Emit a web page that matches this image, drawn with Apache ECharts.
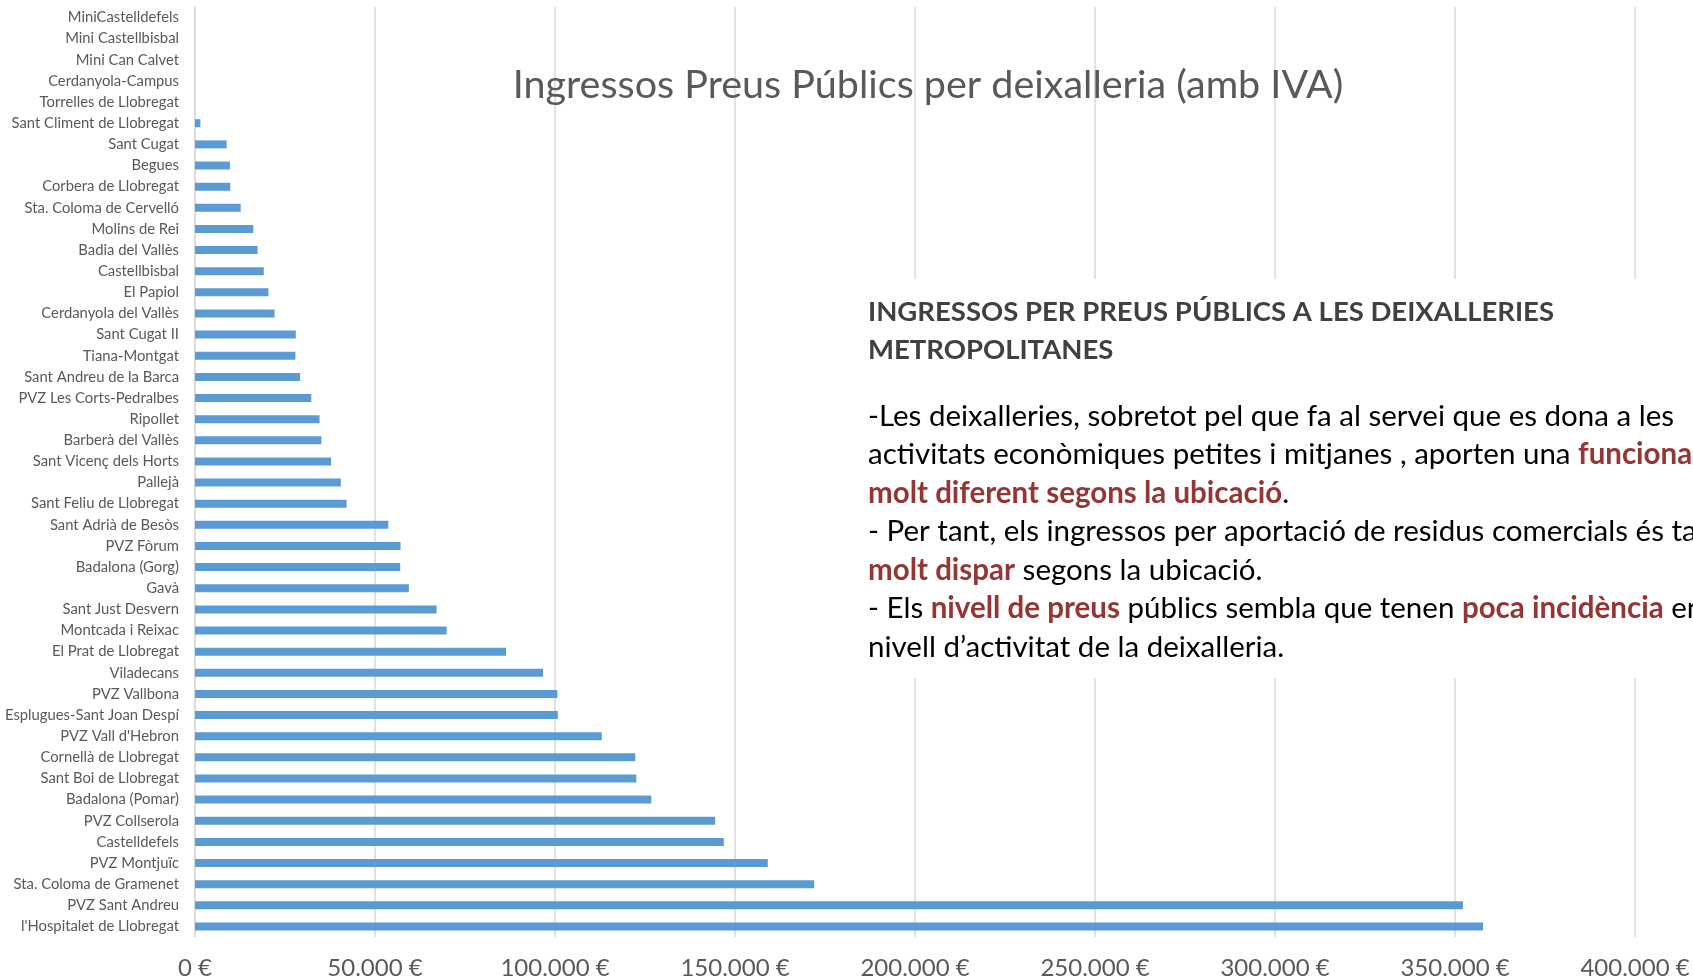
<!DOCTYPE html>
<html>
<head>
<meta charset="utf-8">
<script src="https://cdn.jsdelivr.net/npm/echarts@6/dist/echarts.min.js"></script>
<style>
  html, body { margin: 0; padding: 0; background: #fff; }
  #chart { width: 1693px; height: 980px; }
</style>
</head>
<body>
<div id="chart"></div>
<script>
// deixalleries, from top to bottom as in the chart
const deixalleries = [
    'MiniCastelldefels', 'Mini Castellbisbal', 'Mini Can Calvet', 'Cerdanyola-Campus',
    'Torrelles de Llobregat', 'Sant Climent de Llobregat', 'Sant Cugat', 'Begues',
    'Corbera de Llobregat', 'Sta. Coloma de Cervelló', 'Molins de Rei', 'Badia del Vallès',
    'Castellbisbal', 'El Papiol', 'Cerdanyola del Vallès', 'Sant Cugat II', 'Tiana-Montgat',
    'Sant Andreu de la Barca', 'PVZ Les Corts-Pedralbes', 'Ripollet', 'Barberà del Vallès',
    'Sant Vicenç dels Horts', 'Pallejà', 'Sant Feliu de Llobregat', 'Sant Adrià de Besòs',
    'PVZ Fòrum', 'Badalona (Gorg)', 'Gavà', 'Sant Just Desvern', 'Montcada i Reixac',
    'El Prat de Llobregat', 'Viladecans', 'PVZ Vallbona', 'Esplugues-Sant Joan Despí',
    "PVZ Vall d'Hebron", 'Cornellà de Llobregat', 'Sant Boi de Llobregat', 'Badalona (Pomar)',
    'PVZ Collserola', 'Castelldefels', 'PVZ Montjuïc', 'Sta. Coloma de Gramenet',
    'PVZ Sant Andreu', "l'Hospitalet de Llobregat"
]
// ingressos (EUR, amb IVA)
const ingressos = [
    0, 0, 0, 0,
    0, 1500, 8800, 9700,
    9800, 12700, 16200, 17400,
    19100, 20400, 22100, 28000, 27900,
    29200, 32300, 34600, 35100,
    37800, 40500, 42100, 53700,
    57100, 57000, 59400, 67100, 69900,
    86400, 96700, 100650, 100800,
    113000, 122300, 122600, 126750,
    144500, 146900, 159100, 172000,
    352200, 357800
]
const xTicks = { min: 0, max: 400000, interval: 50000 }

const titol = 'Ingressos Preus Públics per deixalleria (amb IVA)'
const capcalera = 'INGRESSOS PER PREUS PÚBLICS A LES DEIXALLERIES\nMETROPOLITANES'
const cos = [
    '-Les deixalleries, sobretot pel que fa al servei que es dona a les',
    'activitats econòmiques petites i mitjanes , aporten una {r|funcionalitat}',
    '{r|molt diferent segons la ubicació}.',
    '- Per tant, els ingressos per aportació de residus comercials és també',
    '{r|molt dispar} segons la ubicació.',
    '- Els {r|nivell de preus} públics sembla que tenen {r|poca incidència} en el',
    'nivell d\u2019activitat de la deixalleria.'
]

{
    let view = document.getElementById('chart')
    let controller = {
        init(view) {
            let myChart = echarts.init(view)
            const font = 'Lato'
            const euro = v => v.toLocaleString('de-DE') + ' €'
            let option = {
                animation: false,
                title: {
                    text: titol,
                    left: 923,
                    top: 60,
                    textAlign: 'center',
                    textStyle: {
                        color: '#595959',
                        fontFamily: font,
                        fontWeight: 'normal',
                        fontSize: 39.5
                    }
                },
                grid: { left: 195, right: 58, top: 7, bottom: 41 },
                xAxis: {
                    type: 'value',
                    min: xTicks.min,
                    max: xTicks.max,
                    interval: xTicks.interval,
                    axisLine: { show: false },
                    axisTick: { show: false },
                    axisLabel: {
                        formatter: euro,
                        color: '#595959',
                        fontFamily: font,
                        fontSize: 24,
                        margin: 19
                    },
                    splitLine: { lineStyle: { color: '#D9D9D9', width: 1.5 } }
                },
                yAxis: {
                    type: 'category',
                    inverse: true,
                    data: deixalleries,
                    axisLine: { lineStyle: { color: '#D9D9D9', width: 1.5 } },
                    axisTick: { show: false },
                    axisLabel: {
                        color: '#595959',
                        fontFamily: font,
                        fontSize: 14.8,
                        margin: 16,
                        interval: 0
                    }
                },
                series: [{
                    type: 'bar',
                    data: ingressos,
                    barWidth: 8,
                    itemStyle: { color: '#5B9BD5' }
                }],
                graphic: [
                    {
                        type: 'rect',
                        z: 10,
                        shape: { x: 858, y: 279, width: 840, height: 399 },
                        style: { fill: '#ffffff' }
                    },
                    {
                        type: 'text',
                        z: 11,
                        x: 868,
                        y: 293,
                        style: {
                            text: capcalera,
                            fill: '#404040',
                            fontFamily: font,
                            fontWeight: 'bold',
                            fontSize: 27.5,
                            lineHeight: 38,
                            verticalAlign: 'top'
                        }
                    },
                    {
                        type: 'text',
                        z: 11,
                        x: 868,
                        y: 397,
                        style: {
                            text: cos.join('\n'),
                            fill: '#000000',
                            fontFamily: font,
                            fontSize: 29.5,
                            lineHeight: 38.5,
                            verticalAlign: 'top',
                            rich: {
                                r: {
                                    fill: '#963634',
                                    fontFamily: font,
                                    fontWeight: 'bold',
                                    fontSize: 29.5,
                                    lineHeight: 38.5
                                }
                            }
                        }
                    }
                ]
            }
            myChart.setOption(option)
        }
    }
    controller.init(view)
}
</script>
</body>
</html>
